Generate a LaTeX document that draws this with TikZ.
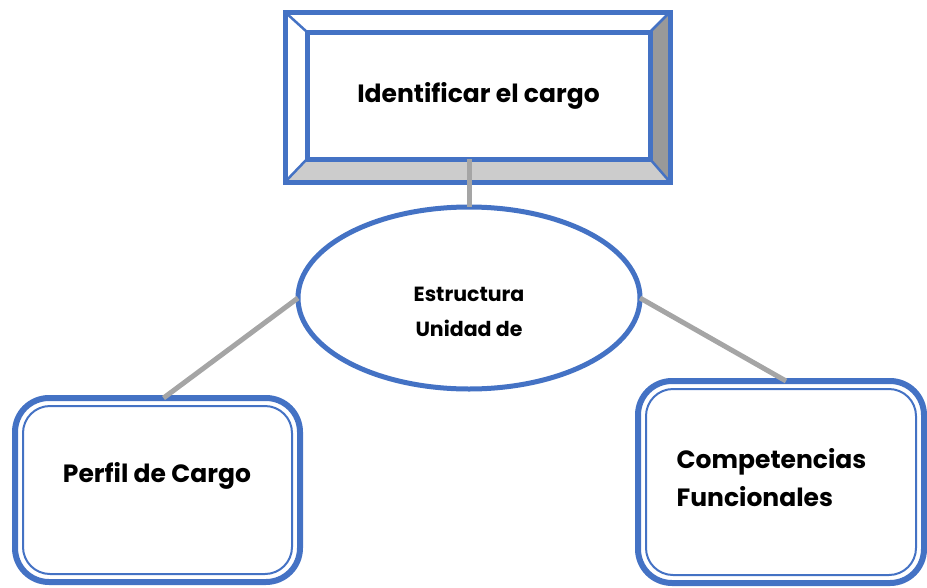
\documentclass[tikz,border=0pt]{standalone}
\usepackage{fontspec}
\setmainfont{Poppins}
\usetikzlibrary{shapes.geometric,backgrounds}
\definecolor{azul}{HTML}{4472C4}
\definecolor{gris}{HTML}{A5A5A5}
\begin{document}
\begin{tikzpicture}[x=1pt,y=-1pt,
    marco/.style={draw=azul, line width=6pt, rounded corners=34pt, outer sep=0pt},
    filete/.style={draw=azul, line width=2pt, rounded corners=27pt},
    liga/.style={draw=gris, line width=5pt},
    titulo/.style={font=\bfseries\fontsize{25}{38}\selectfont, inner sep=0pt},
    chico/.style={font=\bfseries\fontsize{20.5}{35}\selectfont, inner sep=0pt, align=center}]
  \useasboundingbox (0,0) rectangle (927,587);
  % caja biselada de arriba
  \node[draw=azul, line width=5pt, outer sep=0pt, minimum width=385pt, minimum height=170pt] (cargo) at (477.5,97) {};
  \node[draw=azul, line width=5pt, outer sep=0pt, minimum width=343pt, minimum height=127pt] (cargoin) at (478.5,95.5) {};
  \begin{scope}[on background layer]
    \fill[black!40] (cargo.north east) -- (cargoin.north east) -- (cargoin.south east) -- (cargo.south east) -- cycle;
    \fill[black!20] (cargo.south west) -- (cargoin.south west) -- (cargoin.south east) -- (cargo.south east) -- cycle;
  \end{scope}
  \foreach \c in {north west,north east,south west,south east}
    \draw[azul, line width=2.5pt] (cargo.\c) -- (cargoin.\c);
  \node[titulo] (cargotxt) at (cargoin.center) {Identificar el cargo};
  % elipse
  \node[ellipse, draw=azul, line width=5pt, outer sep=0pt, minimum width=342pt, minimum height=182pt] (unidad) at (469,298) {};
  \node[chico] (unidadtxt) at (469,312) {Estructura\\Unidad de};
  % cajas de abajo
  \node[marco, minimum width=285pt, minimum height=184pt] (perfil) at (157.5,490) {};
  \draw[filete] ([shift={(8,8)}]perfil.north west) rectangle ([shift={(-8,-8)}]perfil.south east);
  \node[titulo] (perfiltxt) at (157,476) {Perfil de Cargo};
  \node[marco, minimum width=286pt, minimum height=202pt] (comp) at (781,482) {};
  \draw[filete] ([shift={(8,8)}]comp.north west) rectangle ([shift={(-8,-8)}]comp.south east);
  \node[titulo, align=left] (comptxt) at (771.5,478) {Competencias\\Funcionales};
  % ligas
  \draw[liga] (cargoin.south -| unidad.north) -- (unidad.north);
  \draw[liga] (unidad.west) -- ([xshift=6pt]perfil.north);
  \draw[liga] (unidad.east) -- ([xshift=5pt]comp.north);
\end{tikzpicture}
\end{document}
